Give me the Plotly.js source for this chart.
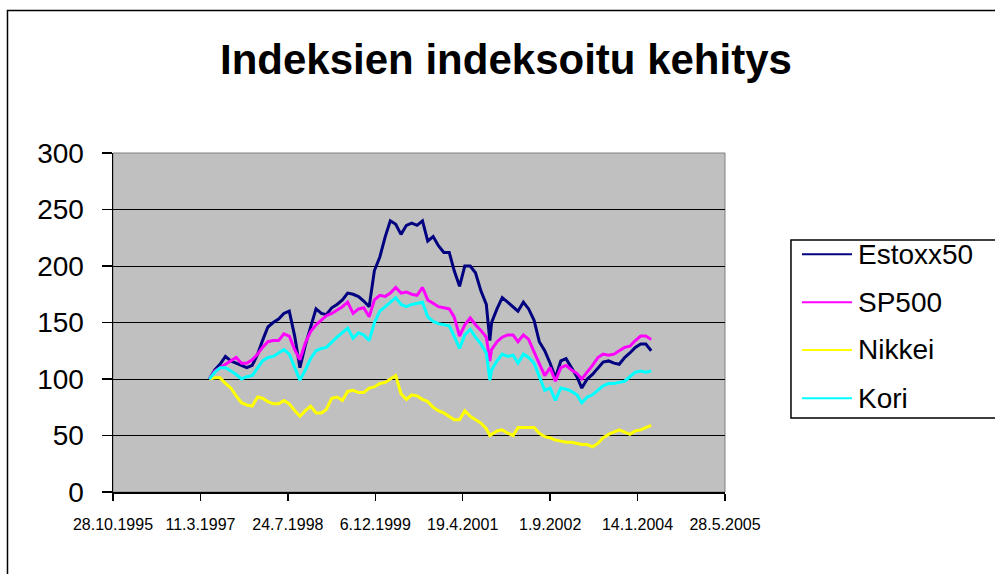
<!DOCTYPE html>
<html>
<head>
<meta charset="utf-8">
<script src="https://cdn.plot.ly/plotly-3.0.1.min.js"></script>
<style>html,body{margin:0;padding:0;background:#fff;}#chart{width:995px;height:574px;}</style>
</head>
<body>
<div id="chart"></div>
<script>
// Dates (monthly samples, plus one extra at the Sept 2001 low)
var dates = [
 "1997-05-01","1997-06-01","1997-07-01","1997-08-01","1997-09-01","1997-10-01","1997-11-01","1997-12-01",
 "1998-01-01","1998-02-01","1998-03-01","1998-04-01","1998-05-01","1998-06-01","1998-07-01","1998-08-01",
 "1998-09-01","1998-10-01","1998-11-01","1998-12-01","1999-01-01","1999-02-01","1999-03-01","1999-04-01",
 "1999-05-01","1999-06-01","1999-07-01","1999-08-01","1999-09-01","1999-10-01","1999-11-01","1999-12-01",
 "2000-01-01","2000-02-01","2000-03-01","2000-04-01","2000-05-01","2000-06-01","2000-07-01","2000-08-01",
 "2000-09-01","2000-10-01","2000-11-01","2000-12-01","2001-01-01","2001-02-01","2001-03-01","2001-04-01",
 "2001-05-01","2001-06-01","2001-07-01","2001-08-01","2001-09-01","2001-09-21","2001-10-01","2001-11-01",
 "2001-12-01","2002-01-01","2002-02-01","2002-03-01","2002-04-01","2002-05-01","2002-06-01","2002-07-01",
 "2002-08-01","2002-09-01","2002-10-01","2002-11-01","2002-12-01","2003-01-01","2003-02-01","2003-03-01",
 "2003-04-01","2003-05-01","2003-06-01","2003-07-01","2003-08-01","2003-09-01","2003-10-01","2003-11-01",
 "2003-12-01","2004-01-01","2004-02-01","2004-03-01","2004-04-01"
];
var estoxx50 = [
 100,108,113,120,116,114,112,110,112,122,
 134,146,150,153,158,160,138,110,130,145,
 162,158,157,163,166,170,176,175,173,
 169,164,196,208,226,240,237,228,236,238,236,
 240,222,226,218,212,212,196,182,200,200,194,178,166,
 134,
 150,162,172,
 168,164,160,168,162,152,133,125,114,101,116,118,110,102,
 92,100,104,110,115,116,114,113,119,123,128,131,131,125
];
var sp500 = [
 100,107,110,113,116,119,114,114,117,122,
 128,133,134,134,140,138,126,117,132,142,
 148,152,156,158,161,164,168,158,162,
 163,155,170,174,173,176,181,176,177,175,174,
 181,170,167,164,163,162,155,138,148,154,148,143,137,
 116,
 126,133,137,
 139,139,133,139,135,124,114,103,110,98,110,112,108,105,
 100,106,112,119,122,121,122,125,128,129,134,138,138,135
];
var nikkei = [
 100,101,101,96,92,85,79,77,76,84,
 83,80,78,78,81,78,72,67,72,76,
 70,70,73,83,84,81,89,90,88,
 88,92,93,96,97,100,103,87,82,86,85,
 82,80,75,72,70,67,64,64,72,67,64,61,56,
 50,
 51,54,55,
 52,50,57,57,57,57,52,49,48,46,45,44,44,43,
 42,42,40,43,48,51,53,55,53,51,54,55,57,59
];
var kori = [
 100,106,110,110,107,104,100,102,103,110,
 116,119,120,123,126,122,110,99,108,118,
 125,127,128,133,137,141,145,136,141,
 139,134,150,160,164,168,172,166,164,166,167,
 168,155,151,149,148,147,138,127,139,144,137,131,123,
 99,
 108,116,122,
 120,121,114,122,119,114,103,90,92,81,92,91,89,86,
 79,84,86,90,94,96,96,97,98,102,106,107,106,107
];
var seriesNames = ["Estoxx50","SP500","Nikkei","Kori"];
var seriesColors = ["#000080","#FF00FF","#FFFF00","#00FFFF"];
var seriesValues = [estoxx50, sp500, nikkei, kori];
var tickDates = ["1995-10-28","1997-03-11","1998-07-24","1999-12-06","2001-04-19","2002-09-01","2004-01-14","2005-05-28"];
var tickLabels = ["28.10.1995","11.3.1997","24.7.1998","6.12.1999","19.4.2001","1.9.2002","14.1.2004","28.5.2005"];
var yTicks = [0,50,100,150,200,250,300];

var FONT = "Liberation Sans, Arial, sans-serif";
var traces = seriesNames.map(function(n,i){
  return {x: dates, y: seriesValues[i], type: "scatter", mode: "lines", name: n,
          line: {color: seriesColors[i], width: 3}, showlegend: false, hoverinfo: "skip"};
});

// manual legend (Excel style box, longer line samples)
var legendRows = [0.7012, 0.5596, 0.4189, 0.2764];
var shapes = [
  {type:"rect", xref:"paper", yref:"paper", x0:0, x1:1, y0:0, y1:1, line:{color:"#808080", width:1}, layer:"below"},
  {type:"rect", xref:"paper", yref:"paper", x0:-0.1724, x1:1.6, y0:-0.5, y1:1.4204, line:{color:"#000", width:1.5}, fillcolor:"rgba(0,0,0,0)"},
  {type:"rect", xref:"paper", yref:"paper", x0:1.1078, x1:1.6, y0:0.2183, y1:0.7434, line:{color:"#000", width:1.5}, fillcolor:"#fff"}
];
var annotations = [];
seriesNames.forEach(function(n,i){
  shapes.push({type:"line", xref:"paper", yref:"paper", x0:1.1258, x1:1.2075, y0:legendRows[i], y1:legendRows[i],
               line:{color:seriesColors[i], width:2}});
  annotations.push({xref:"paper", yref:"paper", x:1.2140, y:legendRows[i], xanchor:"left", yanchor:"middle",
                    text:n, showarrow:false, font:{family:FONT, size:28, color:"#000"}});
});

var layout = {
  width: 995, height: 574, autosize: false,
  margin: {l:113, r:270, t:153, b:82, pad:0},
  paper_bgcolor: "#fff", plot_bgcolor: "#C0C0C0",
  font: {family: FONT, color: "#000"},
  title: {text: "Indeksien indeksoitu kehitys", font: {family: FONT, size: 42, weight: "bold", color:"#000"},
          xref: "container", yref: "container", x: 0.5085, y: 0.896, xanchor: "center", yanchor: "middle"},
  xaxis: {type: "date", range: ["1995-10-28","2005-05-28"], tickmode: "array", tickvals: tickDates, ticktext: tickLabels,
          showgrid: false, zeroline: false, showline: true, linecolor: "#000", linewidth: 1.5,
          ticks: "outside", ticklen: 7, tickwidth: 1.5, tickcolor: "#000", ticklabelstandoff: 10,
          tickfont: {family: FONT, size: 16, color:"#000"}, fixedrange: true},
  yaxis: {range: [0,300], tickmode: "array", tickvals: yTicks, showgrid: true, gridcolor: "#000", gridwidth: 1,
          zeroline: false, showline: true, linecolor: "#000", linewidth: 1.5,
          ticks: "outside", ticklen: 10, tickwidth: 1.5, tickcolor: "#000", ticklabelstandoff: 12,
          tickfont: {family: FONT, size: 28, color:"#000"}, fixedrange: true},
  shapes: shapes, annotations: annotations, showlegend: false
};
Plotly.newPlot("chart", traces, layout, {displayModeBar: false, staticPlot: true});
</script>
</body>
</html>
